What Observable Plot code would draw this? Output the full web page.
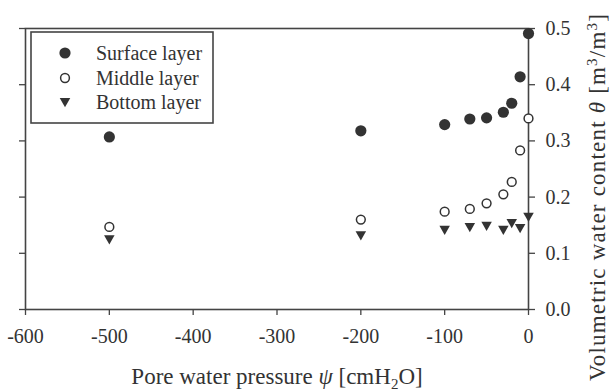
<!DOCTYPE html>
<html>
<head>
<meta charset="utf-8">
<script src="https://cdn.jsdelivr.net/npm/d3@7"></script>
<script src="https://cdn.jsdelivr.net/npm/@observablehq/plot@0.6"></script>
<style>
  html, body { margin: 0; padding: 0; background: #fff; }
  #wrap { position: relative; width: 611px; height: 390px; overflow: hidden; font-family: "Liberation Serif", "Times New Roman", serif; }
  #legend { position: absolute; left: 30px; top: 31px; }
</style>
</head>
<body>
<div id="wrap"></div>
<script>
// ---- data ----
const pressure = [-500, -200, -100, -70, -50, -30, -20, -10, 0];
const surface  = [0.307, 0.318, 0.329, 0.339, 0.341, 0.351, 0.367, 0.414, 0.491];
const middle   = [0.147, 0.160, 0.174, 0.179, 0.189, 0.205, 0.227, 0.283, 0.340];
const bottom   = [0.125, 0.132, 0.142, 0.147, 0.149, 0.142, 0.154, 0.145, 0.165];
const layers   = ["Surface layer", "Middle layer", "Bottom layer"];
const xTicks   = [-600, -500, -400, -300, -200, -100, 0];
const yTicks   = [0, 0.1, 0.2, 0.3, 0.4, 0.5];
const xTitle   = "Pore water pressure ψ [cmH2O]";
const yTitle   = "Volumetric water content θ [m3/m3]";

const ink = "#333";
const line = "#444";
const font = "Liberation Serif";

// downward triangle symbol
const triangleDown = {
  draw(context, size) {
    const r = Math.sqrt(size / Math.PI);
    context.moveTo(-1.05 * r, -0.8 * r);
    context.lineTo(1.05 * r, -0.8 * r);
    context.lineTo(0, 1.05 * r);
    context.closePath();
  }
};

const rows = [];
pressure.forEach((p, i) => {
  rows.push({p, v: surface[i], layer: layers[0]});
  rows.push({p, v: middle[i], layer: layers[1]});
  rows.push({p, v: bottom[i], layer: layers[2]});
});

const chart = Plot.plot({
  width: 611,
  height: 390,
  marginLeft: 25,
  marginRight: 83,
  marginTop: 28,
  marginBottom: 81,
  style: {fontFamily: font, color: ink, background: "transparent", overflow: "visible"},
  x: {domain: [-600, 0]},
  y: {domain: [0, 0.5]},
  marks: [
    Plot.axisX({ticks: xTicks, tickFormat: d => String(d), tickSize: 6, tickPadding: 13, fontSize: 20, label: null, stroke: line, strokeWidth: 1.3, fill: ink}),
    Plot.axisY({anchor: "right", ticks: yTicks, tickFormat: d3.format(".1f"), tickSize: 6, tickPadding: 11, fontSize: 20, label: null, stroke: line, strokeWidth: 1.3, fill: ink}),
    Plot.axisY({anchor: "left", ticks: yTicks, tickFormat: () => "", tickSize: 6, label: null, stroke: line, strokeWidth: 1.3}),
    Plot.frame({stroke: line, strokeWidth: 1.6}),
    Plot.dot(rows.filter(d => d.layer === layers[2]), {x: "p", y: "v", r: 5, symbol: triangleDown, fill: ink, stroke: "none"}),
    Plot.dot(rows.filter(d => d.layer === layers[1]), {x: "p", y: "v", r: 4.4, fill: "#fff", stroke: ink, strokeWidth: 1.5}),
    Plot.dot(rows.filter(d => d.layer === layers[0]), {x: "p", y: "v", r: 5.6, fill: ink, stroke: "none"}),
    Plot.text([xTitle], {text: d => d, frameAnchor: "bottom", dy: 74, lineAnchor: "bottom", textAnchor: "middle", fontSize: 23, fill: ink}),
    Plot.text([yTitle], {text: d => d, frameAnchor: "right", dx: 69, dy: 28, rotate: -90, fontSize: 23, fill: ink, textAnchor: "middle", lineAnchor: "middle"})
  ]
});

// rich text (italic symbols, sub/superscripts) inside the title text elements
function rich(el, parts, spacing) {
  const t = d3.select(el);
  t.text(null);
  if (spacing) t.attr("letter-spacing", spacing);
  parts.forEach(([s, kind]) => {
    const ts = t.append("tspan").text(s);
    if (kind === "i") ts.attr("font-style", "italic");
    if (kind === "sub") ts.attr("font-size", 15).attr("dy", 5);
    if (kind === "afterSub") ts.attr("dy", -5);
    if (kind === "sup") ts.attr("font-size", 15).attr("dy", -8);
    if (kind === "afterSup") ts.attr("dy", 8);
  });
}
chart.querySelectorAll("text").forEach(el => {
  if (el.textContent === xTitle) {
    rich(el, [["Pore water pressure ", ""], ["ψ", "i"], [" [cmH", ""], ["2", "sub"], ["O]", "afterSub"]]);
  } else if (el.textContent === yTitle) {
    rich(el, [["Volumetric water content ", ""], ["θ", "i"], [" [m", ""], ["3", "sup"], ["/m", "afterSup"], ["3", "sup"], ["]", "afterSup"]], 1.2);
  }
});

const wrap = document.getElementById("wrap");
wrap.appendChild(chart);

// legend box (inside the plot area, as in the reference)
const lg = d3.create("svg").attr("id", "legend").attr("width", 184).attr("height", 93)
  .style("font-family", font);
lg.append("rect").attr("x", 1).attr("y", 1).attr("width", 182).attr("height", 91)
  .attr("fill", "#fff").attr("stroke", line).attr("stroke-width", 1.6);
const rowY = [22, 47, 71];
const sym = [d3.symbol(d3.symbolCircle, 5.6 * 5.6 * Math.PI)(), d3.symbol(d3.symbolCircle, 4.4 * 4.4 * Math.PI)(), d3.symbol(triangleDown, 25 * Math.PI)()];
layers.forEach((name, i) => {
  lg.append("path").attr("d", sym[i]).attr("transform", `translate(35,${rowY[i]})`)
    .attr("fill", i === 1 ? "#fff" : ink).attr("stroke", i === 1 ? ink : "none").attr("stroke-width", 1.5);
  lg.append("text").attr("x", 66).attr("y", rowY[i]).attr("dy", "0.35em")
    .attr("font-size", 20).attr("fill", ink).text(name);
});
wrap.appendChild(lg.node());
</script>
</body>
</html>
